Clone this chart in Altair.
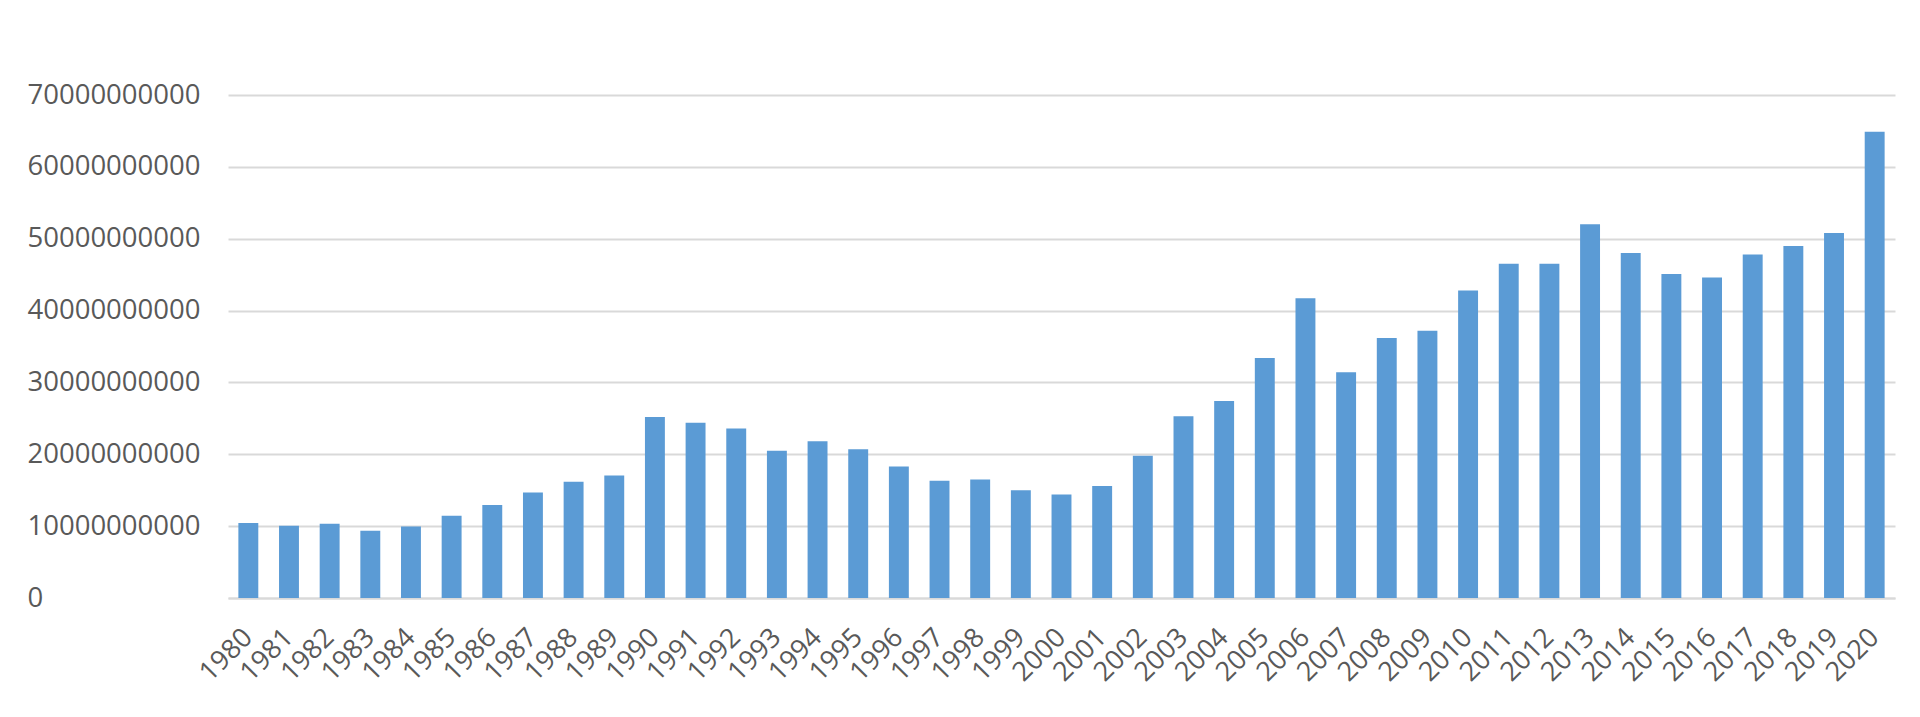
import altair as alt
import pandas as pd

years = [str(y) for y in range(1980, 2021)]
values = [
    10.45e9, 10.05e9, 10.35e9, 9.35e9, 9.95e9, 11.44e9, 12.94e9, 14.68e9, 16.17e9, 17.06e9,
    25.2e9, 24.4e9, 23.6e9, 20.5e9, 21.8e9, 20.7e9, 18.3e9, 16.3e9, 16.5e9, 15.0e9,
    14.4e9, 15.6e9, 19.8e9, 25.3e9, 27.4e9, 33.4e9, 41.7e9, 31.4e9, 36.2e9, 37.2e9,
    42.8e9, 46.5e9, 46.5e9, 52.0e9, 48.0e9, 45.1e9, 44.6e9, 47.8e9, 49.0e9, 50.8e9,
    64.9e9,
]
y_ticks = [0, 10e9, 20e9, 30e9, 40e9, 50e9, 60e9, 70e9]

df = pd.DataFrame({"year": years, "value": values})

FONT = "Open Sans"
GREY = "#595959"

chart = (
    alt.Chart(df)
    .mark_bar(color="#5B9BD5")
    .encode(
        x=alt.X(
            "year:N",
            sort=years,
            title=None,
            scale=alt.Scale(paddingInner=0.51, paddingOuter=0.255),
            axis=alt.Axis(
                labelAngle=-45,
                labelAlign="right",
                labelBaseline="middle",
                labelPadding=35,
                labelFont=FONT,
                labelFontSize=27,
                labelColor=GREY,
                ticks=False,
                domainColor="#d9d9d9",
                domainWidth=2,
                grid=False,
            ),
        ),
        y=alt.Y(
            "value:Q",
            title=None,
            scale=alt.Scale(domain=[0, 70e9], nice=False),
            axis=alt.Axis(
                values=y_ticks,
                format="d",
                labelAlign="left",
                labelPadding=201,
                tickSize=0,
                ticks=False,
                domain=False,
                labelFont=FONT,
                labelFontSize=27.5,
                labelColor=GREY,
                gridColor="#d9d9d9",
                gridWidth=2,
            ),
        ),
    )
    .properties(
        width=1667,
        height=503,
        autosize=alt.AutoSizeParams(type="none"),
        padding={"left": 220, "top": 87, "right": 17, "bottom": 100},
    )
    .configure_view(stroke=None)
)

chart.save("out.html", embed_options={"renderer": "svg", "actions": False})
